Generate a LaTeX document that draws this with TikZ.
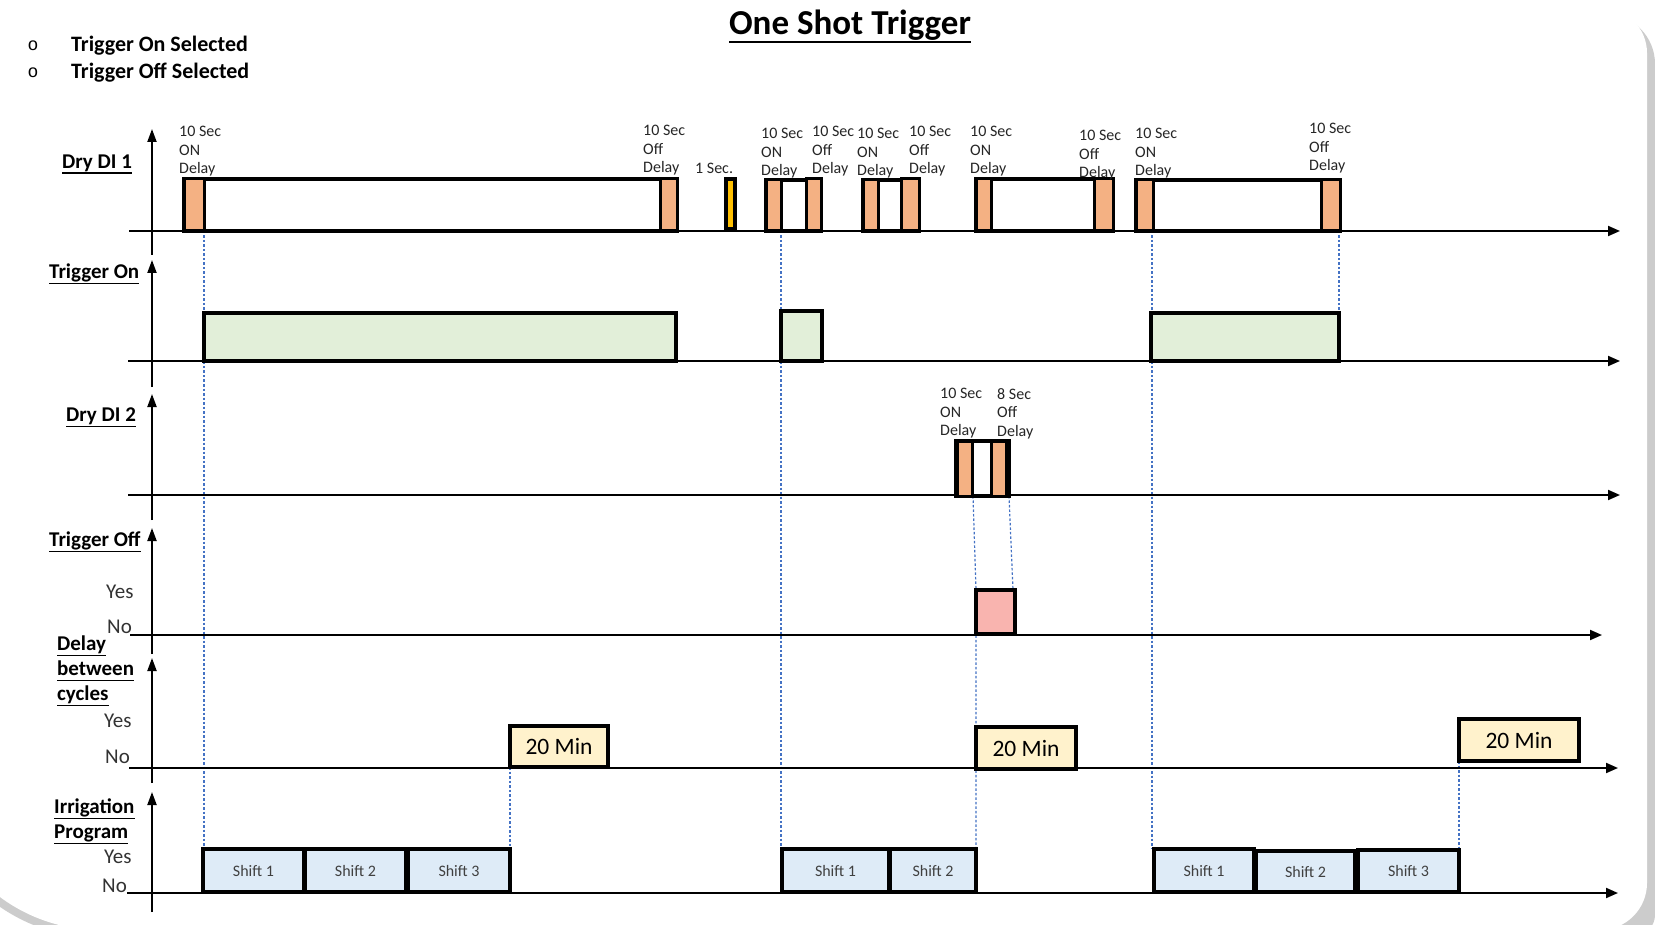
\documentclass[tikz,border=0pt]{standalone}
\usepackage{fontspec}
\setmainfont{Carlito}
\newfontfamily\bulletfont{Liberation Mono}
\newcommand{\ulin}[2][1.5pt]{\setbox0\hbox{#2}\rlap{\rule[-\dimexpr0.17em+#1\relax]{\wd0}{#1}}\box0}
\usetikzlibrary{arrows.meta}
\definecolor{delayorange}{HTML}{F4B183}
\definecolor{trigon}{HTML}{E2EFD9}
\definecolor{trigoff}{HTML}{F9B4AF}
\definecolor{waitfill}{HTML}{FFF2CC}
\definecolor{shiftfill}{HTML}{DEEBF7}
\definecolor{guideblue}{HTML}{4472C4}
\definecolor{onesec}{HTML}{FFC000}

\begin{document}
\begin{tikzpicture}[
  x=1pt, y=-1pt,
  lbl/.style={font=\fontsize{21}{25}\selectfont\bfseries, inner sep=0pt, align=left, anchor=north west},
  lvl/.style={font=\fontsize{21}{25}\selectfont, text=black!80, inner sep=0pt, anchor=base west},
  dly/.style={font=\fontsize{16}{18.5}\selectfont, text=black!85, inner sep=0pt, align=left, anchor=north west},
  stxt/.style={font=\fontsize{16}{19}\selectfont, text=black!75},
  wtxt/.style={font=\fontsize{23.5}{28}\selectfont},
  haxis/.style={line width=2pt, -{Triangle[length=12pt,width=10pt]}},
  vaxis/.style={line width=2pt, -{Triangle[length=13pt,width=9pt]}},
  pulse/.style={draw=black, line width=3.5pt, fill=white},
  dlybox/.style={draw=black, line width=3pt, fill=delayorange},
  onbox/.style={draw=black, line width=3.5pt, fill=trigon},
  offbox/.style={draw=black, line width=3.5pt, fill=trigoff},
  waitbox/.style={draw=black, line width=4pt, fill=waitfill},
  shiftbox/.style={draw=black, line width=3.5pt, fill=shiftfill},
  guide/.style={draw=guideblue, line width=1.2pt, dash pattern=on 2.5pt off 2pt}
]
\useasboundingbox (0,0) rectangle (1655,925);
\fill[white] (0,0) rectangle (1655,925);
\fill[gray!40] (-80,14) -- (1605,14) arc[start angle=270, end angle=360, radius=50]
  -- (1655,915) arc[start angle=0, end angle=90, radius=20]
  -- (100,938) arc[start angle=90, end angle=180, radius=176] -- cycle;
\fill[white] (-68,8) -- (1602,8) arc[start angle=270, end angle=360, radius=45]
  -- (1647,883) arc[start angle=0, end angle=90, radius=47]
  -- (100,930) arc[start angle=90, end angle=180, radius=168] -- cycle;

\node[anchor=base] (title) at (850,35) {\fontsize{35}{40}\selectfont\bfseries\ulin[2.4pt]{One Shot Trigger}};
\node[anchor=base, inner sep=0pt] (bullet-on) at (33,51) {\bulletfont\fontsize{18}{20}\selectfont o};
\node[anchor=base, inner sep=0pt] (bullet-off) at (33,78) {\bulletfont\fontsize{18}{20}\selectfont o};
\node[anchor=base west, inner sep=0pt, font=\fontsize{22}{26}\selectfont\bfseries] (leg-on) at (71,52) {Trigger On Selected};
\node[anchor=base west, inner sep=0pt, font=\fontsize{22}{26}\selectfont\bfseries] (leg-off) at (71,79) {Trigger Off Selected};

\draw[guide] (204,231) -- (204,849);
\draw[guide] (510,767) -- (510,849);
\draw[guide] (781,231) -- (781,849);
\draw[guide] (973,496) -- (976,590) -- (976,849);
\draw[guide] (1009,496) -- (1013,590) -- (1013,613);
\draw[guide] (1152,231) -- (1152,849);
\draw[guide] (1339,231) -- (1339,313);
\draw[guide] (1459,761) -- (1459,849);

\draw[vaxis] (152,255) -- (152,129);
\draw[haxis] (129,231) -- (1620,231);
\draw[vaxis] (152,387) -- (152,260);
\draw[haxis] (128,361) -- (1620,361);
\draw[vaxis] (152,520) -- (152,394);
\draw[haxis] (128,495) -- (1620,495);
\draw[vaxis] (152,654) -- (152,528);
\draw[haxis] (130,635) -- (1602,635);
\draw[vaxis] (152,783) -- (152,658);
\draw[haxis] (129,768) -- (1618,768);
\draw[vaxis] (152,912) -- (152,792);
\draw[haxis] (127,893) -- (1618,893);

\node[lbl] (lbl-di1) at (62,155) {\ulin{Dry DI 1}};
\node[lbl] (lbl-trigon) at (49,264) {\ulin{Trigger On}};
\node[lbl] (lbl-di2) at (66,408) {\ulin{Dry DI 2}};
\node[lbl] (lbl-trigoff) at (49,532) {\ulin{Trigger Off}};
\node[lvl] (yes-trigoff) at (106,598) {Yes};
\node[lvl] (no-trigoff) at (107,633) {No};
\node[lbl] (lbl-delay) at (57,636) {\ulin{Delay}\\\ulin{between}\\\ulin{cycles}};
\node[lvl] (yes-delay) at (104,727) {Yes};
\node[lvl] (no-delay) at (105,763) {No};
\node[lbl] (lbl-irrig) at (54,799) {\ulin{Irrigation}\\\ulin{Program}};
\node[lvl] (yes-irrig) at (104,863) {Yes};
\node[lvl] (no-irrig) at (102,892) {No};

\draw[pulse] (184,179) rectangle (677,231);
\draw[dlybox] (184,179) rectangle (204,231);
\draw[dlybox] (660,179) rectangle (677,231);
\draw[draw=black, line width=3.5pt, fill=onesec] (726,179) rectangle (735,229);
\draw[pulse] (766,180) rectangle (821,231);
\draw[dlybox] (766,180) rectangle (781,231);
\draw[dlybox] (806,179) rectangle (821,231);
\draw[pulse] (863,180) rectangle (919,231);
\draw[dlybox] (863,180) rectangle (878,231);
\draw[dlybox] (901,179) rectangle (919,231);
\draw[pulse] (976,179) rectangle (1113,231);
\draw[dlybox] (976,179) rectangle (991,231);
\draw[dlybox] (1094,179) rectangle (1113,231);
\draw[pulse] (1136,180) rectangle (1340,231);
\draw[dlybox] (1136,180) rectangle (1153,231);
\draw[dlybox] (1321,180) rectangle (1340,231);

\node[dly] (dly-on-1) at (179,126) {10 Sec\\ON\\Delay};
\node[dly] (dly-off-1) at (643,125) {10 Sec\\Off\\Delay};
\node[dly] (dly-1sec) at (695,163) {1 Sec.};
\node[dly] (dly-on-2) at (761,128) {10 Sec\\ON\\Delay};
\node[dly] (dly-off-2) at (812,126) {10 Sec\\Off\\Delay};
\node[dly] (dly-on-3) at (857,128) {10 Sec\\ON\\Delay};
\node[dly] (dly-off-3) at (909,126) {10 Sec\\Off\\Delay};
\node[dly] (dly-on-4) at (970,126) {10 Sec\\ON\\Delay};
\node[dly] (dly-off-4) at (1079,130) {10 Sec\\Off\\Delay};
\node[dly] (dly-on-5) at (1135,128) {10 Sec\\ON\\Delay};
\node[dly] (dly-off-5) at (1309,123) {10 Sec\\Off\\Delay};

\draw[onbox] (204,313) rectangle (676,361);
\draw[onbox] (781,311) rectangle (822,361);
\draw[onbox] (1151,313) rectangle (1339,361);

\draw[pulse] (956,441) rectangle (1009,496);
\draw[dlybox] (957,441) rectangle (972,496);
\draw[dlybox] (991,441) rectangle (1006,496);
\node[dly] (dly-on-di2) at (940,388) {10 Sec\\ON\\Delay};
\node[dly] (dly-off-di2) at (997,388) {8 Sec\\Off\\Delay};

\draw[offbox] (976,590) rectangle (1015,634);

\draw[waitbox] (510,726) rectangle node[wtxt] (wait-1) {20 Min} (608,767);
\draw[waitbox] (976,727) rectangle node[wtxt] (wait-2) {20 Min} (1076,769);
\draw[waitbox] (1459,719) rectangle node[wtxt] (wait-3) {20 Min} (1579,761);

\draw[shiftbox] (203,849) rectangle node[stxt] (shift-a-1) {Shift 1} (304,892);
\draw[shiftbox] (305,849) rectangle node[stxt] (shift-a-2) {Shift 2} (406,892);
\draw[shiftbox] (408,849) rectangle node[stxt] (shift-a-3) {Shift 3} (510,892);
\draw[shiftbox] (782,849) rectangle node[stxt] (shift-b-1) {Shift 1} (889,892);
\draw[shiftbox] (890,849) rectangle node[stxt] (shift-b-2) {Shift 2} (976,892);
\draw[shiftbox] (1154,849) rectangle node[stxt] (shift-c-1) {Shift 1} (1254,892);
\draw[shiftbox] (1256,851) rectangle node[stxt] (shift-c-2) {Shift 2} (1355,892);
\draw[shiftbox] (1358,850) rectangle node[stxt] (shift-c-3) {Shift 3} (1459,892);
\end{tikzpicture}
\end{document}
